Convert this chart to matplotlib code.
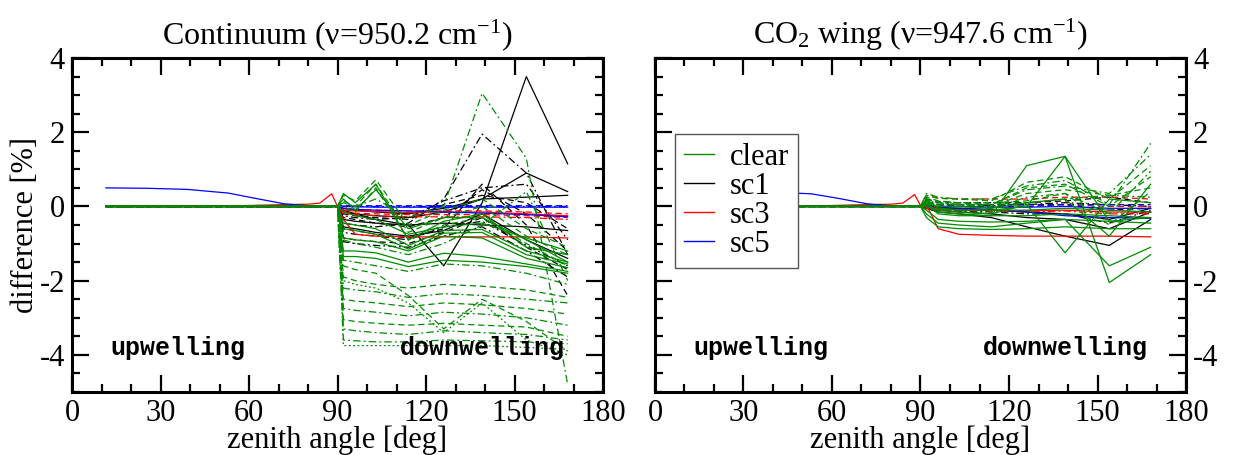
import matplotlib
matplotlib.use("Agg")
import matplotlib.pyplot as plt
from matplotlib.lines import Line2D
from matplotlib.ticker import MultipleLocator

plt.rcParams["font.family"] = ["Liberation Serif", "DejaVu Serif"]
plt.rcParams["mathtext.fontset"] = "custom"
plt.rcParams["mathtext.rm"] = "Liberation Serif"
plt.rcParams["mathtext.it"] = "Liberation Serif:italic"
plt.rcParams["axes.unicode_minus"] = False

# zenith angles [deg]: upwelling part (ends at 90) and downwelling part
ZA_UP = [11.5, 25, 39, 53, 62, 72, 80, 84, 88, 90]
ZA_DOWN = [92, 96, 103, 114, 126, 139, 154, 168]
ZERO_UP = [0, 0, 0, 0, 0, 0, 0, 0, 0, 0]

# ---- continuum channel ----
CONT_SC5_UP = [0.5, 0.49, 0.46, 0.36, 0.22, 0.07, 0.02, 0.01, 0.01, 0.0]
CONT_SC3_UP = [0.0, 0.0, 0.0, 0.01, 0.03, 0.05, 0.06, 0.09, 0.34, 0.0]

CONT_CLEAR_SOLID = [
    [-0.45, -0.5, -0.6, -1.05, -0.65, -0.62, -1.2, -1.5],
    [-0.6, -0.65, -0.75, -1.15, -0.72, -0.7, -1.3, -1.55],
    [-0.85, -0.9, -0.95, -1.2, -0.8, -0.85, -1.4, -1.65],
    [-1.2, -1.2, -1.25, -1.5, -1.26, -1.35, -1.55, -1.75],
    [-1.35, -1.35, -1.4, -1.62, -1.45, -1.5, -1.62, -1.8],
    [0.35, 0.1, 0.6, -0.9, -0.4, -0.2, -1.1, -1.3],
    [0.2, -0.1, 0.45, -0.6, -0.3, -0.3, -0.9, -1.5],
    [-0.15, -0.25, -0.35, -0.75, -0.55, -0.45, -0.85, -1.2],
]
CONT_CLEAR_DASHED = [
    [0.3, 0.15, 0.72, -0.5, -0.1, 0.2, -0.6, -1.1],
    [0.15, 0.0, 0.6, -0.7, -0.3, 0.0, -0.8, -1.3],
    [0.0, -0.15, 0.5, -0.9, -0.5, -0.3, -1.0, -1.6],
    [-1.9, -2.0, -2.1, -2.2, -2.1, -2.15, -2.25, -2.45],
    [-2.5, -2.55, -2.6, -2.7, -2.6, -2.65, -2.75, -2.9],
    [-3.05, -3.1, -3.15, -3.2, -3.15, -3.2, -3.25, -3.5],
    [-1.6, -1.7, -1.8, -2.4, -3.3, -2.5, -3.1, -3.9],
]
CONT_CLEAR_DASHDOT = [
    [-1.45, -1.5, -1.6, -1.75, -1.55, -1.6, -1.8, -2.1],
    [-2.2, -2.25, -2.3, -2.45, -2.35, -2.4, -2.5, -2.6],
    [-2.75, -2.8, -2.85, -2.95, -2.85, -2.9, -3.0, -3.2],
    [-3.3, -3.35, -3.4, -3.45, -3.35, -3.4, -3.45, -3.6],
    [-3.6, -3.62, -3.65, -3.65, -3.6, -3.62, -3.65, -3.7],
    [0.1, 0.0, 0.2, -0.3, 0.0, 3.05, 1.3, -4.8],
    [-0.9, -1.0, -1.1, -1.3, -1.0, -0.5, 0.4, -2.0],
]
CONT_CLEAR_DOTTED = [
    [-3.75, -3.75, -3.75, -3.75, -3.75, -3.75, -3.8, -3.85],
    [-2.0, -2.1, -2.2, -2.6, -3.4, -2.6, -3.6, -4.0],
]

CONT_SC1_SOLID = [
    [-0.1, -0.2, -0.35, -0.5, -1.6, 0.1, 3.5, 1.15],
    [-0.05, -0.1, -0.15, -0.2, -0.05, 0.2, 0.9, 0.4],
    [-0.15, -0.2, -0.25, -0.3, -0.15, 0.2, 0.25, 0.3],
    [-0.35, -0.4, -0.45, -0.5, -0.45, -0.5, -0.55, -0.65],
    [-0.55, -0.6, -0.7, -0.8, -0.65, -0.2, -0.9, -1.4],
]
CONT_SC1_DASHED = [
    [-0.3, -0.35, -0.45, -0.55, -0.3, 0.45, -0.2, -1.2],
    [-0.6, -0.65, -0.75, -0.85, -0.6, 0.6, -0.5, -2.4],
    [-0.85, -0.9, -0.95, -1.0, -0.7, -0.3, -1.1, -1.7],
    [-0.2, -0.25, -0.3, -0.35, 0.05, 0.3, 0.1, -0.6],
]
CONT_SC1_DASHDOT = [
    [-0.45, -0.5, -0.55, -0.45, 0.2, 1.95, 0.9, -1.3],
    [-0.7, -0.75, -0.8, -0.9, -0.55, -0.4, -1.05, -1.6],
    [-0.95, -1.0, -1.05, -1.1, -0.8, -0.55, -1.2, -1.9],
    [-0.25, -0.3, -0.35, -0.3, 0.15, 0.5, 0.6, -0.9],
]

CONT_SC3_SOLID = [
    [-0.35, -0.75, -0.8, -0.82, -0.82, -0.82, -0.82, -0.85],
    [-0.1, -0.12, -0.14, -0.16, -0.15, -0.15, -0.2, -0.25],
]
CONT_SC3_DASHED = [
    [-0.15, -0.18, -0.2, -0.22, -0.22, -0.22, -0.25, -0.3],
    [-0.05, -0.08, -0.1, -0.12, -0.12, -0.12, -0.15, -0.2],
]
CONT_SC3_DASHDOT = [
    [-0.2, -0.22, -0.25, -0.28, -0.28, -0.28, -0.3, -0.35],
]

CONT_SC5_SOLID = [
    [0.0, -0.01, -0.02, -0.02, -0.02, -0.02, -0.02, -0.02],
    [-0.05, -0.08, -0.1, -0.12, -0.15, -0.18, -0.22, -0.28],
]
CONT_SC5_DASHED = [
    [0.03, 0.02, 0.02, 0.02, 0.02, 0.02, 0.02, 0.02],
]
CONT_SC5_DASHDOT = [
    [0.01, 0.0, 0.0, 0.0, 0.0, 0.0, 0.0, 0.0],
]

# ---- CO2 wing channel ----
WING_SC5_UP = [0.42, 0.41, 0.39, 0.34, 0.22, 0.07, 0.02, 0.01, 0.0, 0.0]
WING_SC3_UP = [0.0, 0.0, 0.0, 0.01, 0.03, 0.05, 0.06, 0.09, 0.32, 0.03]

WING_CLEAR_SOLID = [
    [0.1, -0.15, -0.2, -0.25, 1.1, 1.35, -0.4, -0.3],
    [0.2, -0.05, -0.1, -0.1, 0.0, 1.35, -2.05, -1.3],
    [0.0, -0.1, -0.15, -0.2, 0.05, -1.25, 0.2, 0.1],
    [-0.2, -0.45, -0.5, -0.55, -0.45, -0.35, -1.6, -1.1],
    [-0.3, -0.55, -0.6, -0.62, -0.6, -0.55, -0.6, -0.6],
    [-0.1, -0.35, -0.4, -0.42, -0.4, -0.35, -0.4, -0.45],
    [0.05, -0.2, -0.25, -0.25, -0.25, -0.2, -0.25, -0.3],
    [0.15, -0.05, -0.1, -0.1, -0.1, -0.05, -0.1, -0.15],
    [0.1, 0.0, 0.0, -0.05, 0.1, 0.2, -0.8, 0.6],
]
WING_CLEAR_DASHED = [
    [0.3, 0.22, 0.2, 0.15, 0.65, 0.8, 0.2, 1.1],
    [0.2, 0.12, 0.1, 0.05, 0.5, 0.6, 0.0, 0.8],
    [0.1, 0.05, 0.05, 0.0, 0.35, 0.45, 0.3, 0.5],
    [0.25, 0.15, 0.1, 0.1, 0.15, 0.35, -0.5, 0.4],
]
WING_CLEAR_DASHDOT = [
    [0.35, 0.25, 0.2, 0.2, 0.55, 0.7, 0.05, 1.7],
    [0.15, 0.1, 0.05, 0.05, 0.45, 0.55, 0.35, 1.4],
    [0.05, 0.0, 0.0, -0.05, 0.25, 0.35, -0.2, 0.95],
    [0.2, 0.1, 0.05, 0.05, 0.1, 0.2, 0.3, 0.25],
]
WING_CLEAR_DOTTED = []

WING_SC1_SOLID = [
    [-0.05, -0.15, -0.2, -0.3, -0.55, -0.8, -1.05, -0.35],
    [0.0, -0.1, -0.15, -0.2, -0.3, -0.35, -0.6, -0.15],
    [0.05, -0.05, -0.05, -0.1, -0.15, -0.2, -0.35, -0.05],
]
WING_SC1_DASHED = [
    [0.2, 0.12, 0.1, 0.1, 0.1, 0.15, 0.25, 0.1],
    [0.1, 0.05, 0.0, 0.0, 0.0, 0.05, -0.1, -0.05],
]
WING_SC1_DASHDOT = [
    [0.15, 0.05, 0.05, 0.02, 0.05, 0.1, 0.05, 0.0],
    [-0.05, -0.1, -0.12, -0.15, -0.2, -0.2, -0.45, -0.1],
]

WING_SC3_SOLID = [
    [0.05, -0.6, -0.75, -0.78, -0.8, -0.8, -0.8, -0.82],
    [0.0, -0.05, -0.08, -0.1, -0.12, -0.1, -0.15, -0.15],
]
WING_SC3_DASHED = [
    [0.3, 0.22, 0.2, 0.2, 0.2, 0.25, 0.25, 0.2],
    [0.1, 0.05, 0.05, 0.05, 0.05, 0.05, 0.0, 0.0],
]
WING_SC3_DASHDOT = [
    [-0.05, -0.1, -0.12, -0.12, -0.15, -0.12, -0.2, -0.2],
]

WING_SC5_SOLID = [
    [0.0, 0.0, 0.0, -0.02, -0.02, 0.0, -0.05, -0.05],
    [0.05, -0.02, -0.05, -0.08, -0.15, -0.25, -0.3, -0.32],
]
WING_SC5_DASHED = [
    [0.1, 0.05, 0.05, 0.05, 0.05, 0.05, 0.05, 0.05],
]
WING_SC5_DASHDOT = []

CASE_NAMES = ["clear", "sc1", "sc3", "sc5"]
CASE_COLORS = ["#008b00", "black", "red", "blue"]

DASHES = {
    "solid": "-",
    "dashed": (0, (5, 3)),
    "dashdot": (0, (6, 2.5, 1.5, 2.5)),
    "dotted": (0, (1.5, 2)),
}

ZA = ZA_UP + ZA_DOWN


def draw_case(ax, color, up_first, groups):
    first = True
    for style, rows in groups:
        for row in rows:
            up = up_first if first else ZERO_UP
            first = False
            ax.plot(ZA, up + row, color=color, linestyle=DASHES[style], lw=0.9)


def style_axes(ax, right_labels=False):
    ax.set_xlim(0, 180)
    ax.set_ylim(-5, 4)
    ax.xaxis.set_major_locator(MultipleLocator(30))
    ax.xaxis.set_minor_locator(MultipleLocator(10))
    ax.yaxis.set_major_locator(MultipleLocator(2))
    ax.yaxis.set_minor_locator(MultipleLocator(0.5))
    ax.tick_params(which="both", direction="in", top=True, right=True,
                   left=True, bottom=True, width=1.6, labelsize=22, pad=5)
    ax.tick_params(which="major", length=12)
    ax.tick_params(which="minor", length=6)
    if right_labels:
        ax.tick_params(labelleft=False, labelright=True)
    for s in ax.spines.values():
        s.set_linewidth(2.2)
    ax.set_xlabel("zenith angle [deg]", fontsize=22, labelpad=-2)
    ax.text(13, -4.0, "upwelling", family="Liberation Mono", weight="bold",
            fontsize=18, ha="left", va="baseline")
    ax.text(167, -4.0, "downwelling", family="Liberation Mono", weight="bold",
            fontsize=18, ha="right", va="baseline")


fig = plt.figure(figsize=(12.33, 4.55), dpi=100)
ax1 = fig.add_axes([0.0584, 0.1385, 0.4307, 0.734])
ax2 = fig.add_axes([0.5312, 0.1385, 0.4307, 0.734])

# continuum panel: clear sky drawn last so it sits on top of the zero line
draw_case(ax1, CASE_COLORS[1], ZERO_UP,
          [("solid", CONT_SC1_SOLID), ("dashed", CONT_SC1_DASHED), ("dashdot", CONT_SC1_DASHDOT)])
draw_case(ax1, CASE_COLORS[2], CONT_SC3_UP,
          [("solid", CONT_SC3_SOLID), ("dashed", CONT_SC3_DASHED), ("dashdot", CONT_SC3_DASHDOT)])
draw_case(ax1, CASE_COLORS[3], CONT_SC5_UP,
          [("solid", CONT_SC5_SOLID), ("dashed", CONT_SC5_DASHED), ("dashdot", CONT_SC5_DASHDOT)])
draw_case(ax1, CASE_COLORS[0], ZERO_UP,
          [("solid", CONT_CLEAR_SOLID), ("dashed", CONT_CLEAR_DASHED),
           ("dashdot", CONT_CLEAR_DASHDOT), ("dotted", CONT_CLEAR_DOTTED)])

# CO2 wing panel
draw_case(ax2, CASE_COLORS[1], ZERO_UP,
          [("solid", WING_SC1_SOLID), ("dashed", WING_SC1_DASHED), ("dashdot", WING_SC1_DASHDOT)])
draw_case(ax2, CASE_COLORS[2], WING_SC3_UP,
          [("solid", WING_SC3_SOLID), ("dashed", WING_SC3_DASHED), ("dashdot", WING_SC3_DASHDOT)])
draw_case(ax2, CASE_COLORS[3], WING_SC5_UP,
          [("solid", WING_SC5_SOLID), ("dashed", WING_SC5_DASHED), ("dashdot", WING_SC5_DASHDOT)])
draw_case(ax2, CASE_COLORS[0], ZERO_UP,
          [("solid", WING_CLEAR_SOLID), ("dashed", WING_CLEAR_DASHED),
           ("dashdot", WING_CLEAR_DASHDOT), ("dotted", WING_CLEAR_DOTTED)])

style_axes(ax1)
style_axes(ax2, right_labels=True)
ax1.set_ylabel("difference [%]", fontsize=22, labelpad=0)

ax1.set_title("Continuum (ν=950.2 cm$^{-1}$)", fontsize=23, pad=10)
ax2.set_title("CO$_2$ wing (ν=947.6 cm$^{-1}$)", fontsize=23, pad=10)

handles = [Line2D([], [], color=c, lw=1.0) for c in CASE_COLORS]
leg = ax2.legend(handles, CASE_NAMES, loc="lower left", bbox_to_anchor=(0.037, 0.371),
                 borderaxespad=0, fontsize=22, frameon=True, fancybox=False,
                 framealpha=1, edgecolor="#555555", handlelength=1.0,
                 handletextpad=0.5, labelspacing=0.0, borderpad=0.3)
leg.get_frame().set_linewidth(1.0)

fig.savefig("out.png", dpi=100)
